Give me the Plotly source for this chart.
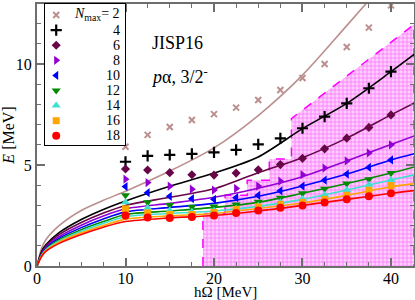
import plotly.graph_objects as go

# ---------------- data ----------------
hw = [10, 12.5, 15, 17.5, 20, 22.5, 25, 27.5, 30, 32.5, 35, 37.5, 40]
nmax_labels = ["2", "4", "6", "8", "10", "12", "14", "16", "18"]

pts_N2 = [5.9, 6.49, 6.88, 7.23, 7.52, 7.84, 8.22, 8.71, 9.31, 10.0, 10.84, 11.8, 12.9]
pts_N4 = [5.16, 5.45, 5.5, 5.55, 5.62, 5.75, 6.02, 6.32, 6.82, 7.39, 8.05, 8.8, 9.62]
pts_N6 = [4.8, 4.75, 4.62, 4.52, 4.5, 4.6, 4.76, 5.02, 5.33, 5.8, 6.33, 6.86, 7.48]
pts_N8 = [4.3, 4.13, 3.95, 3.8, 3.76, 3.84, 3.96, 4.2, 4.52, 4.85, 5.2, 5.6, 6.0]
pts_N10 = [3.93, 3.63, 3.45, 3.33, 3.3, 3.38, 3.5, 3.72, 3.96, 4.25, 4.55, 4.88, 5.25]
pts_N12 = [3.5, 3.15, 3.02, 2.93, 2.95, 3.04, 3.18, 3.38, 3.6, 3.82, 4.08, 4.3, 4.6]
pts_N14 = [3.15, 2.87, 2.75, 2.68, 2.74, 2.85, 2.98, 3.15, 3.32, 3.52, 3.76, 4.02, 4.26]
pts_N16 = [2.83, 2.63, 2.55, 2.55, 2.65, 2.8, 2.93, 3.05, 3.15, 3.3, 3.5, 3.75, 3.98]
pts_N18 = [2.5, 2.4, 2.38, 2.42, 2.5, 2.62, 2.75, 2.88, 3.0, 3.14, 3.3, 3.45, 3.6]

line_x = [0, 0.5, 1, 2.5, 5, 7.5, 10, 15, 20, 25, 30, 35, 40, 43]
line_N2 = [0, 0.85, 1.3, 2.0, 2.75, 3.25, 3.7, 4.7, 5.85, 7.45, 9.45, 11.9, 14.4, 15.9]
line_N4 = [0, 0.7, 1.05, 1.65, 2.3, 2.8, 3.22, 3.95, 4.6, 5.4, 6.8, 8.05, 9.62, 10.6]
line_N6 = [0, 0.62, 0.98, 1.55, 2.15, 2.62, 3.0, 3.4, 3.82, 4.62, 5.36, 6.33, 7.48, 8.15]
line_N8 = [0, 0.58, 0.92, 1.45, 2.02, 2.47, 2.83, 3.1, 3.4, 3.85, 4.42, 5.2, 6.02, 6.5]
line_N10 = [0, 0.55, 0.87, 1.37, 1.9, 2.33, 2.68, 2.9, 3.1, 3.45, 3.96, 4.55, 5.25, 5.6]
line_N12 = [0, 0.52, 0.83, 1.3, 1.8, 2.2, 2.55, 2.72, 2.9, 3.15, 3.6, 4.08, 4.6, 4.95]
line_N14 = [0, 0.5, 0.8, 1.24, 1.72, 2.11, 2.44, 2.6, 2.72, 2.95, 3.3, 3.76, 4.26, 4.55]
line_N16 = [0, 0.48, 0.76, 1.18, 1.64, 2.01, 2.32, 2.48, 2.6, 2.85, 3.12, 3.5, 3.92, 4.1]
line_N18 = [0, 0.46, 0.72, 1.12, 1.56, 1.92, 2.2, 2.38, 2.5, 2.72, 3.0, 3.3, 3.6, 3.75]

region_x = [18.75, 18.75, 21.25, 21.25, 23.75, 23.75, 26.25, 26.25, 28.75, 28.75, 42.6, 42.6]
region_y = [0, 2.6, 2.6, 3.5, 3.5, 4.25, 4.25, 5.3, 5.3, 7.3, 11.95, 0]

x_ticks = [0, 10, 20, 30, 40]
y_ticks = [0, 5, 10]

# ---------------- styles ----------------
pts_all = [pts_N2, pts_N4, pts_N6, pts_N8, pts_N10, pts_N12, pts_N14, pts_N16, pts_N18]
lines_all = [line_N2, line_N4, line_N6, line_N8, line_N10, line_N12, line_N14, line_N16, line_N18]
colors = ["#bc8f8f", "#000000", "#670748", "#9400d3", "#0000ff", "#008b00",
          "#40e0d0", "#ffa500", "#ff0000"]
symbols = ["x-thin", "cross-thin", "diamond", "triangle-right", "triangle-left",
           "triangle-down", "triangle-up", "square", "circle"]
sizes = [6, 8, 7, 8, 8, 8, 8, 7, 8]

SERIF = "Liberation Serif, Times New Roman, serif"
fig = go.Figure()

# shaded region
fig.add_trace(go.Scatter(
    x=region_x, y=region_y, mode="lines", fill="toself",
    line=dict(color="#ff00ff", width=1.5, dash="dash"),
    fillcolor="rgba(255,0,255,0.3)",
    fillpattern=dict(shape="+", fgcolor="#ff00ff", bgcolor="#fbd0fb", size=4, solidity=0.3),
    showlegend=False, hoverinfo="skip", xaxis="x", yaxis="y"))

# curves
for ys, c in zip(lines_all, colors):
    fig.add_trace(go.Scatter(x=line_x, y=ys, mode="lines",
                             line=dict(color=c, width=1.6, shape="spline", smoothing=0.8),
                             showlegend=False, hoverinfo="skip", xaxis="x", yaxis="y"))

def marker(i):
    if symbols[i] in ("x-thin", "cross-thin"):
        return dict(symbol=symbols[i], size=sizes[i], color=colors[i],
                    line=dict(color=colors[i], width=2.2 if i == 1 else 2))
    return dict(symbol=symbols[i], size=sizes[i], color=colors[i], line=dict(width=0))

# points
for i, ys in enumerate(pts_all):
    fig.add_trace(go.Scatter(x=hw, y=ys, mode="markers", marker=marker(i),
                             showlegend=False, xaxis="x", yaxis="y"))

# custom legend (markers on small inset axes)
for i in range(len(nmax_labels)):
    fig.add_trace(go.Scatter(x=[0.14], y=[i], mode="markers", marker=marker(i),
                             showlegend=False, xaxis="x2", yaxis="y2", hoverinfo="skip"))

annotations = []
for i, lab in enumerate(nmax_labels):
    txt = "<i>N</i><sub>max</sub>= " + lab if i == 0 else lab
    annotations.append(dict(x=0.96, y=i, xref="x2", yref="y2", text=txt, showarrow=False,
                            xanchor="right", yanchor="middle",
                            font=dict(family=SERIF, size=14, color="black")))

annotations.append(dict(x=12.8, y=11.05, xref="x", yref="y", text="JISP16", showarrow=False,
                        xanchor="left", yanchor="middle",
                        font=dict(family=SERIF, size=18, color="black")))
annotations.append(dict(x=12.6, y=9.45, xref="x", yref="y", text="<i>p</i>α, 3/2<sup>-</sup>",
                        showarrow=False, xanchor="left", yanchor="middle",
                        font=dict(family=SERIF, size=18, color="black")))
# x-axis title
annotations.append(dict(x=0.5, y=0, xref="paper", yref="paper", text="hΩ [MeV]",
                        showarrow=False, xanchor="center", yanchor="top", yshift=-17.3,
                        borderpad=0,
                        font=dict(family=SERIF, size=15, color="black")))

axis_common = dict(showline=True, linecolor="#6e6e6e", linewidth=2, mirror="allticks",
                   ticks="inside", ticklen=8, tickwidth=1.5, tickcolor="#6e6e6e",
                   showgrid=False, zeroline=False, automargin=False,
                   tickfont=dict(family=SERIF, size=16, color="black"))

fig.update_layout(
    width=415, height=300,
    margin=dict(l=37, r=1, t=4, b=34),
    paper_bgcolor="white", plot_bgcolor="white",
    showlegend=False,
    xaxis=dict(range=[0, 42.6], tickvals=x_ticks, domain=[0, 1],
               minor=dict(dtick=2.5, ticks="inside", ticklen=4, tickcolor="#6e6e6e", tickwidth=1.2),
               anchor="y", **axis_common),
    yaxis=dict(range=[0, 12.97], tickvals=y_ticks, domain=[0, 1],
               minor=dict(dtick=1, ticks="inside", ticklen=4, tickcolor="#6e6e6e", tickwidth=1.2),
               title=dict(text="<i>E</i> [MeV]", font=dict(family=SERIF, size=16, color="black"), standoff=0),
               anchor="x", **axis_common),
    xaxis2=dict(domain=[8 / 377, 88 / 377], range=[0, 1], anchor="y2",
                showline=True, mirror=True, linecolor="black", linewidth=1,
                showticklabels=False, ticks="", showgrid=False, zeroline=False, fixedrange=True),
    yaxis2=dict(domain=[121 / 262, 1], range=[8.61, -0.728], anchor="x2",
                showline=True, mirror=True, linecolor="black", linewidth=1,
                showticklabels=False, ticks="", showgrid=False, zeroline=False, fixedrange=True),
    annotations=annotations,
)

try:
    fig.layout.xaxis.ticklabelstandoff = -3
except Exception:
    pass

fig.write_html("out.html", config={"displayModeBar": False},
               post_script="document.body.style.margin='0';document.body.style.padding='0';")
